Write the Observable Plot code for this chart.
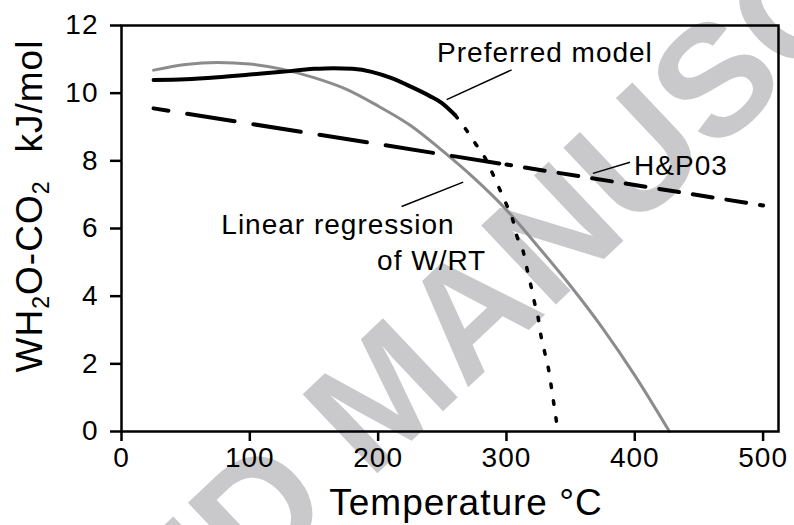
<!DOCTYPE html>
<html>
<head>
<meta charset="utf-8">
<script src="https://cdn.jsdelivr.net/npm/d3@7"></script>
<script src="https://cdn.jsdelivr.net/npm/@observablehq/plot@0.6"></script>
<style>
  html, body { margin: 0; padding: 0; background: #fff; }
  svg text { letter-spacing: 1px; }
</style>
</head>
<body>
<div id="chart"></div>
<script>
// ---- data ----
const xTicks = [0, 100, 200, 300, 400, 500];
const yTicks = [0, 2, 4, 6, 8, 10, 12];

// Preferred model, solid part (T °C, W kJ/mol)
const prefT = [25, 50, 75, 100, 125, 150, 165, 180, 195, 210, 225, 240, 250, 260];
const prefW = [10.39, 10.41, 10.47, 10.55, 10.63, 10.72, 10.74, 10.72, 10.63, 10.45, 10.2, 9.92, 9.7, 9.35];

// Preferred model, dotted extrapolation
const extT = [260, 268, 276, 283, 288, 294, 300, 305, 308, 313, 316, 319, 322, 325, 327, 330, 333, 335, 337, 339, 340];
const extW = [9.35, 8.95, 8.5, 8.11, 7.72, 7.22, 6.71, 6.24, 5.79, 5.33, 4.81, 4.32, 3.79, 3.3, 2.81, 2.31, 1.8, 1.31, 0.8, 0.29, 0.05];

// Linear regression of W/RT (grey)
const regT = [25, 50, 75, 100, 125, 150, 175, 200, 225, 250, 275, 300, 325, 350, 375, 400, 427];
const regW = [10.68, 10.85, 10.91, 10.86, 10.71, 10.46, 10.12, 9.62, 9.05, 8.3, 7.48, 6.55, 5.45, 4.3, 3.05, 1.66, 0];

// H&P03 (dashed; drawn in two pieces with different dash lengths)
const hpLeftT = [25, 300];
const hpLeftW = [9.55, 7.89];
const hpRightT = [300, 500];
const hpRightW = [7.89, 6.68];

// Annotations
const labelText = ["Preferred model", "H&P03", "Linear regression", "of W/RT"];
const labelT = [330, 436, 168.7, 241.7];
const labelW = [10.92, 7.57, 5.84, 4.76];

const leaderT1 = [253.4, 367.4, 218.3];
const leaderW1 = [9.81, 7.63, 6.65];
const leaderT2 = [304, 396.3, 266.3];
const leaderW2 = [10.69, 7.96, 7.37];

const xTitle = "Temperature °C";
const watermark = "ACCEPTED MANUSCRIPT";

// ---- build tables ----
const toRows = (T, W) => T.map((t, i) => ({T: t, W: W[i]}));
const pref = toRows(prefT, prefW);
const ext = toRows(extT, extW);
const reg = toRows(regT, regW);
const hpLeft = toRows(hpLeftT, hpLeftW);
const hpRight = toRows(hpRightT, hpRightW);
const labels = labelText.map((s, i) => ({text: s, T: labelT[i], W: labelW[i]}));
const leaders = leaderT1.map((t, i) => ({x1: t, y1: leaderW1[i], x2: leaderT2[i], y2: leaderW2[i]}));

const FONT = "'Liberation Sans', Arial, Helvetica, sans-serif";

const chart = Plot.plot({
  width: 794,
  height: 525,
  marginLeft: 121,
  marginRight: 16,
  marginTop: 25,
  marginBottom: 94,
  style: {fontFamily: FONT, background: "#fff", color: "#000"},
  x: {domain: [0, 512]},
  y: {domain: [0, 12]},
  marks: [
    Plot.line(reg, {x: "T", y: "W", stroke: "#8c8c8c", strokeWidth: 3, curve: "monotone-x"}),
    Plot.line(hpLeft, {x: "T", y: "W", stroke: "#000", strokeWidth: 4, strokeDasharray: "48 19", strokeDashoffset: 33}),
    Plot.line(hpRight, {x: "T", y: "W", stroke: "#000", strokeWidth: 4, strokeDasharray: "20 14", strokeDashoffset: 15.3}),
    Plot.line(ext, {x: "T", y: "W", stroke: "#000", strokeWidth: 3.5, strokeDasharray: "3.5 13.5", curve: "monotone-x"}),
    Plot.line(pref, {x: "T", y: "W", stroke: "#000", strokeWidth: 4, curve: "monotone-x"}),
    Plot.link(leaders, {x1: "x1", y1: "y1", x2: "x2", y2: "y2", stroke: "#000", strokeWidth: 1.5}),
    Plot.text(labels, {x: "T", y: "W", text: "text", textAnchor: "middle", lineAnchor: "bottom", fontSize: 28, fill: "#000"}),
    Plot.frame({stroke: "#000", strokeWidth: 2.5}),
    Plot.axisX({ticks: xTicks, tickSize: 10, tickPadding: 6, fontSize: 28, strokeWidth: 2.5, label: null}),
    Plot.axisY({ticks: yTicks, tickSize: 11, tickPadding: 12, fontSize: 28, strokeWidth: 2.5, label: null})
  ]
});

const svg = d3.select(chart);

// watermark behind everything
svg.insert("text", ":first-child")
  .attr("transform", "translate(392,402) rotate(-43.4)")
  .attr("text-anchor", "middle")
  .attr("dominant-baseline", "middle")
  .attr("font-family", FONT)
  .attr("font-weight", "bold")
  .attr("font-size", 158)
  .attr("fill", "#c9c9cb")
  .style("letter-spacing", "0px")
  .text(watermark);

// x title
svg.append("text")
  .attr("x", 466).attr("y", 515)
  .attr("text-anchor", "middle")
  .attr("font-family", FONT)
  .attr("font-size", 37)
  .attr("fill", "#000")
  .text(xTitle);

// y title with subscripts
const yt = svg.append("text")
  .attr("transform", "translate(42,206) rotate(-90)")
  .attr("text-anchor", "middle")
  .attr("font-family", FONT)
  .attr("font-size", 37)
  .attr("fill", "#000");
yt.append("tspan").text("WH");
yt.append("tspan").attr("font-size", 23).attr("dy", 7).text("2");
yt.append("tspan").attr("dy", -7).text("O-CO");
yt.append("tspan").attr("font-size", 23).attr("dy", 7).text("2");
yt.append("tspan").attr("dy", -7).attr("dx", 28).text("kJ/mol");

document.getElementById("chart").appendChild(chart);
</script>
</body>
</html>
